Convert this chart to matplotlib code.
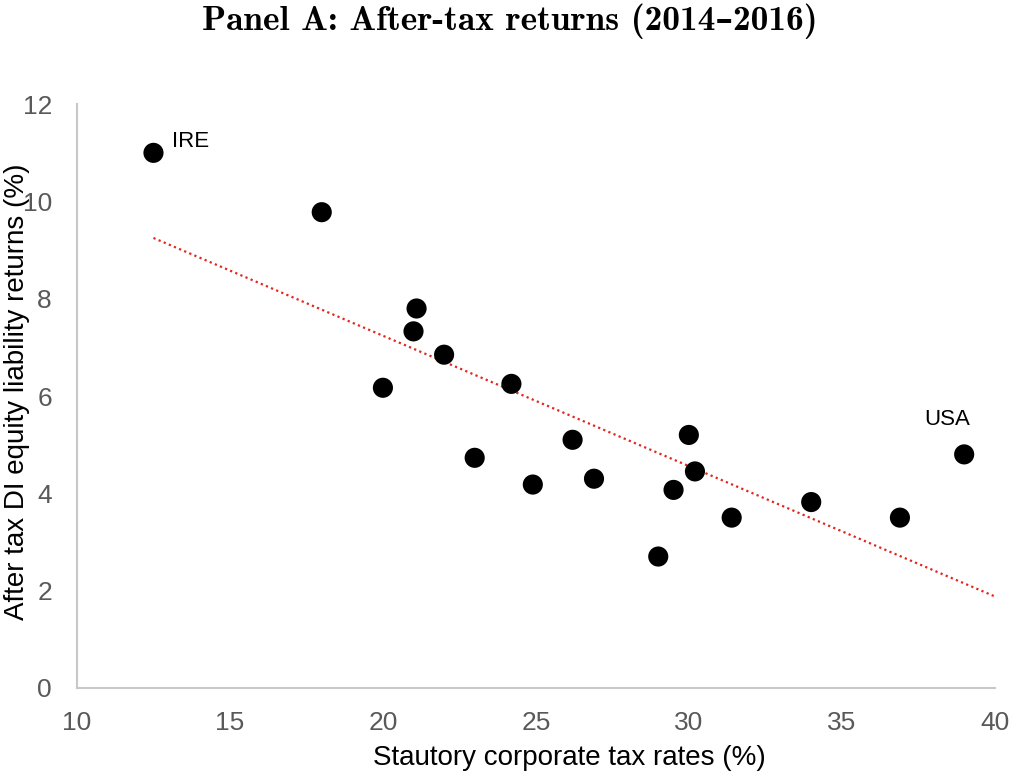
import matplotlib
matplotlib.use("Agg")
import matplotlib.pyplot as plt
import numpy as np

tax_rate = [12.5, 18.0, 21.1, 21.0, 22.0, 20.0, 24.2, 23.0, 26.2, 24.9, 26.9,
            30.0, 30.2, 29.5, 29.0, 31.4, 34.0, 36.9, 39.0]
returns = [11.0, 9.78, 7.8, 7.33, 6.85, 6.17, 6.25, 4.73, 5.1, 4.18, 4.3,
           5.2, 4.45, 4.07, 2.7, 3.5, 3.82, 3.5, 4.8]
trend_x = [12.5, 40.0]
trend_y = [9.25, 1.88]
labels = {"IRE": (12.5, 11.0), "USA": (39.0, 4.8)}

fig = plt.figure(figsize=(10.13, 7.72), dpi=100)
ax = fig.add_axes([0.076, 0.109, 0.906, 0.756])

ax.plot(trend_x, trend_y, linestyle=(0, (1, 1.5)), color="#e3261c", linewidth=1.6, zorder=2)
ax.scatter(tax_rate, returns, s=210, color="black", zorder=3, edgecolors="none")

ax.annotate("IRE", labels["IRE"], xytext=(13.5, 4.3), textcoords="offset points",
            fontsize=16, family="Liberation Sans", color="black", va="baseline")
ax.annotate("USA", labels["USA"], xytext=(-29, 21), textcoords="offset points",
            fontsize=16, family="Liberation Sans", color="black", va="baseline")

ax.set_xlim(10, 40)
ax.set_ylim(0, 12)
ax.set_xticks(range(10, 41, 5))
ax.set_yticks(range(0, 13, 2))
for s in ["top", "right"]:
    ax.spines[s].set_visible(False)
for s in ["left", "bottom"]:
    ax.spines[s].set_color("#c8c8c8")
    ax.spines[s].set_linewidth(1.5)
ax.tick_params(axis="both", length=0, labelsize=19, labelcolor="#595959")
ax.tick_params(axis="x", pad=17)
ax.tick_params(axis="y", pad=18)
for lab in ax.get_xticklabels() + ax.get_yticklabels():
    lab.set_family("Liberation Sans")

ax.set_xlabel("Stautory corporate tax rates (%)", fontsize=20, family="Liberation Sans",
              color="black")
ax.set_ylabel("After tax DI equity liability returns (%)", fontsize=20,
              family="Liberation Sans", color="black")
ax.xaxis.set_label_coords(0.536, -0.098)
ax.yaxis.set_label_coords(-0.051, 0.507)

fig.text(0.503, 1 - 30 / 772, "Panel A: After-tax returns (2014–2016)", ha="center",
         va="baseline", fontsize=25.5, family=["cmb10", "DejaVu Serif"], fontweight="bold")

fig.savefig("out.png", dpi=100)
